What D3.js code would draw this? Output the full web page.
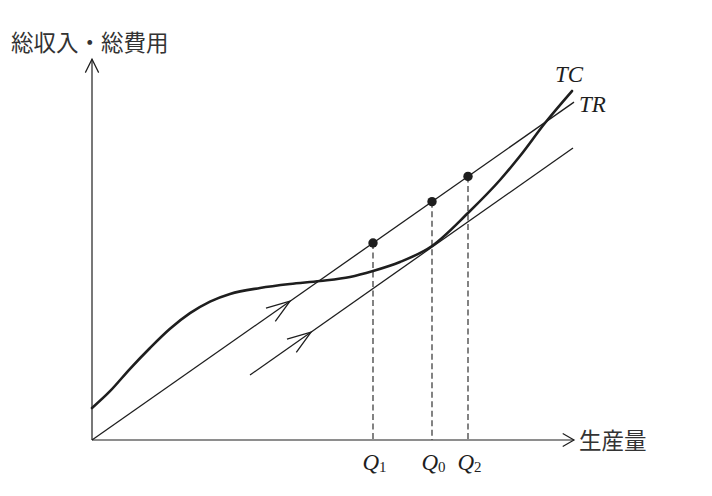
<!DOCTYPE html>
<html>
<head>
<meta charset="utf-8">
<script src="https://cdn.jsdelivr.net/npm/d3@7"></script>
<style>
  html, body { margin: 0; padding: 0; background: #fff; }
  svg { display: block; }
</style>
</head>
<body>
<svg id="chart" width="712" height="496"></svg>
<script>
// ---- data (units: output along x, money along y) ----
const tcX = [0, 0.45, 0.95, 1.45, 1.95, 2.45, 2.95, 3.45, 4.2, 4.95, 5.7, 6.45, 7.025, 7.7, 8.5, 9.4, 10.2, 10.7, 11.325, 12.0];
const tcY = [0.8, 1.22, 1.78, 2.3, 2.78, 3.17, 3.46, 3.65, 3.8, 3.9, 3.975, 4.075, 4.225, 4.45, 4.85, 5.675, 6.5, 7.1, 7.925, 8.725];
const trX = [0, 12.05];
const trY = [0, 8.447];
const tangentX = [3.95, 12.025];
const tangentY = [1.625, 7.3];
const qNames = ["Q", "Q", "Q"];
const qSubs = ["1", "0", "2"];
const qValues = [7.025, 8.5, 9.4];
const trSlope = 0.701;
const arrowTR = 4.95;      // position of the direction arrow on TR
const arrowTan = 5.475;    // position of the direction arrow on the tangent line
const yLabel = "総収入・総費用";
const xLabel = "生産量";
const lineLabels = ["TC", "TR"];

// ---- scales ----
const x = d3.scaleLinear().domain([0, 12]).range([92, 572]);
const y = d3.scaleLinear().domain([0, 9.5]).range([440, 60]);

const svg = d3.select("#chart");
const ink = "#1e1e1e";

// axes
const xEnd = 12.05, yEnd = 9.52;
svg.append("line").attr("x1", x(0)).attr("y1", y(0)).attr("x2", x(xEnd)).attr("y2", y(0))
  .attr("stroke", ink).attr("stroke-width", 1.2);
svg.append("line").attr("x1", x(0)).attr("y1", y(0)).attr("x2", x(0)).attr("y2", y(yEnd))
  .attr("stroke", ink).attr("stroke-width", 1.2);

function chevron(tx, ty, angle, len, half, width) {
  const a1 = angle + Math.PI - half, a2 = angle + Math.PI + half;
  const p = d3.path();
  p.moveTo(tx + len * Math.cos(a1), ty + len * Math.sin(a1));
  p.lineTo(tx, ty);
  p.lineTo(tx + len * Math.cos(a2), ty + len * Math.sin(a2));
  svg.append("path").attr("d", p.toString()).attr("fill", "none")
    .attr("stroke", ink).attr("stroke-width", width).attr("stroke-linejoin", "miter");
}
chevron(x(xEnd), y(0), 0, 13, 0.52, 1.2);
chevron(x(0), y(yEnd), -Math.PI / 2, 15, 0.46, 1.2);

// dashed verticals
qValues.forEach(q => {
  svg.append("line").attr("x1", x(q)).attr("x2", x(q))
    .attr("y1", y(trSlope * q)).attr("y2", y(0))
    .attr("stroke", ink).attr("stroke-width", 1.1).attr("stroke-dasharray", "6,3.5");
});

const line = d3.line().x(d => x(d[0])).y(d => y(d[1]));

// TR line
svg.append("path").attr("d", line(d3.zip(trX, trY)))
  .attr("fill", "none").attr("stroke", ink).attr("stroke-width", 1.3);
// tangent line parallel to TR
svg.append("path").attr("d", line(d3.zip(tangentX, tangentY)))
  .attr("fill", "none").attr("stroke", ink).attr("stroke-width", 1.3);
// TC curve
svg.append("path").attr("d", d3.line().x(d => x(d[0])).y(d => y(d[1])).curve(d3.curveMonotoneX)(d3.zip(tcX, tcY)))
  .attr("fill", "none").attr("stroke", ink).attr("stroke-width", 2.6).attr("stroke-linecap", "round");

// direction arrows on lines
const trAngle = Math.atan2(y(trY[1]) - y(trY[0]), x(trX[1]) - x(trX[0]));
chevron(x(arrowTR), y(trSlope * arrowTR), trAngle, 25, 0.33, 1.3);
const tanSlope = (tangentY[1] - tangentY[0]) / (tangentX[1] - tangentX[0]);
const tanAngle = Math.atan2(y(tangentY[1]) - y(tangentY[0]), x(tangentX[1]) - x(tangentX[0]));
chevron(x(arrowTan), y(tangentY[0] + tanSlope * (arrowTan - tangentX[0])), tanAngle, 25, 0.33, 1.3);

// dots on TR
svg.selectAll("circle.dot").data(qValues).join("circle").attr("class", "dot")
  .attr("cx", d => x(d)).attr("cy", d => y(trSlope * d)).attr("r", 4.7).attr("fill", ink);

// Q labels
const qg = svg.selectAll("text.q").data(qValues).join("text").attr("class", "q")
  .attr("x", d => x(d) + 1.5).attr("y", 470).attr("text-anchor", "middle")
  .attr("fill", ink);
qg.append("tspan").text((d, i) => qNames[i])
  .attr("font-family", "'Liberation Serif', 'DejaVu Serif', serif")
  .attr("font-style", "italic").attr("font-size", 23);
qg.append("tspan").text((d, i) => qSubs[i])
  .attr("font-family", "'Liberation Serif', 'DejaVu Serif', serif")
  .attr("font-style", "normal").attr("font-size", 15).attr("dy", 2);

// TC / TR labels
svg.append("text").text(lineLabels[0]).attr("x", 555).attr("y", 82)
  .attr("font-family", "'Liberation Serif', 'DejaVu Serif', serif")
  .attr("font-style", "italic").attr("font-size", 23).attr("fill", ink);
svg.append("text").text(lineLabels[1]).attr("x", 579).attr("y", 112)
  .attr("font-family", "'Liberation Serif', 'DejaVu Serif', serif")
  .attr("font-style", "italic").attr("font-size", 23).attr("fill", ink);

// axis titles
svg.append("text").text(yLabel).attr("x", 11).attr("y", 51)
  .attr("font-family", "'Noto Sans CJK JP', sans-serif").attr("font-size", 22.5)
  .attr("fill", "#333");
svg.append("text").text(xLabel).attr("x", 579).attr("y", 449)
  .attr("font-family", "'Noto Sans CJK JP', sans-serif").attr("font-size", 22.5)
  .attr("fill", "#333");
</script>
</body>
</html>
